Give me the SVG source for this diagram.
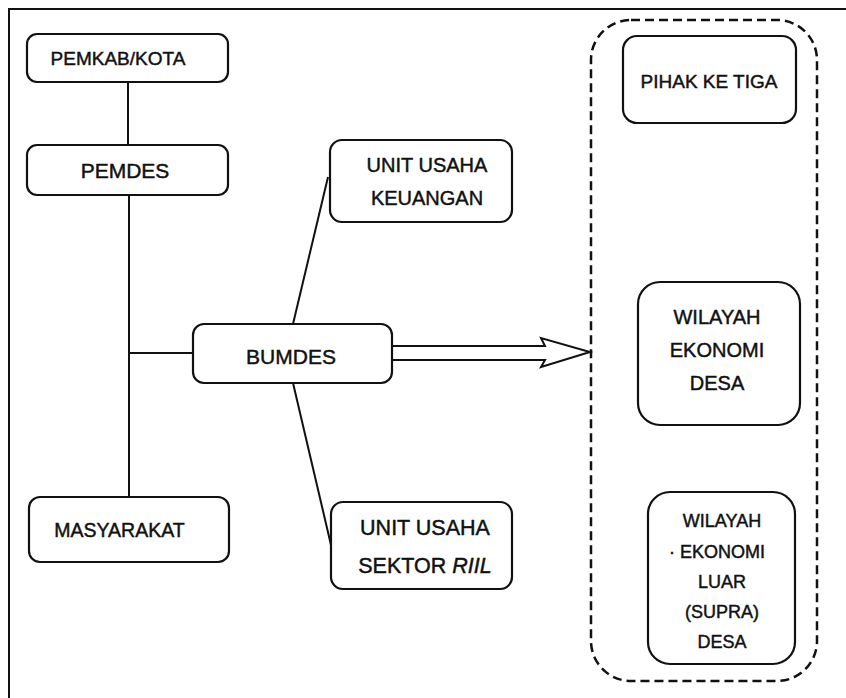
<svg xmlns="http://www.w3.org/2000/svg" width="846" height="698" viewBox="0 0 846 698">
<style>
  .box { fill: #ffffff; stroke: #111111; stroke-width: 2.2; }
  .ln { fill: none; stroke: #111111; stroke-width: 2; }
  .t { font-family: "Liberation Sans", Arial, sans-serif; fill: #111111; stroke: #111111; stroke-width: 0.45; text-anchor: middle; }
  .dash { fill: none; stroke: #111111; stroke-width: 2.5; stroke-dasharray: 9 5; }
</style>
<rect width="846" height="698" fill="#ffffff"/>
<!-- frame -->
<g id="frame">
  <path class="ln" d="M9,698 L9,9 L846,9"/>
</g>
<!-- connectors -->
<g id="connectors">
  <line class="ln" x1="128" y1="82" x2="128" y2="145"/>
  <line class="ln" x1="129" y1="195" x2="129" y2="497"/>
  <line class="ln" x1="129" y1="353" x2="193" y2="353"/>
  <line class="ln" x1="293" y1="324" x2="328" y2="177"/>
  <line class="ln" x1="293" y1="383" x2="331" y2="545"/>
  <polyline class="ln" points="392,346 545,346 541,338 590,352 541,367 545,360 392,360" fill="#ffffff"/>
</g>
<g id="container">
  <rect class="dash" x="591" y="20" width="226" height="661" rx="40" ry="40"/>
</g>
<g id="pemkab">
  <rect class="box" x="27" y="34" width="201" height="48" rx="10"/>
  <text class="t" x="118" y="65" font-size="19">PEMKAB/KOTA</text>
</g>
<g id="pemdes">
  <rect class="box" x="27" y="145" width="201" height="50" rx="10"/>
  <text class="t" x="125" y="178" font-size="21">PEMDES</text>
</g>
<g id="bumdes">
  <rect class="box" x="193" y="324" width="199" height="59" rx="11"/>
  <text class="t" x="291" y="364" font-size="21">BUMDES</text>
</g>
<g id="masyarakat">
  <rect class="box" x="29" y="497" width="200" height="65" rx="11"/>
  <text class="t" x="119.5" y="537" font-size="19.5">MASYARAKAT</text>
</g>
<g id="keuangan">
  <rect class="box" x="330" y="140" width="182" height="82" rx="12"/>
  <text class="t" x="427" y="172" font-size="20">UNIT USAHA</text>
  <text class="t" x="427" y="205" font-size="20">KEUANGAN</text>
</g>
<g id="sektor-riil">
  <rect class="box" x="331" y="502" width="181" height="87" rx="12"/>
  <text class="t" x="425" y="535" font-size="21.5">UNIT USAHA</text>
  <text class="t" x="425" y="573" font-size="21.5">SEKTOR <tspan font-style="italic">RIIL</tspan></text>
</g>
<g id="pihak-ke-tiga">
  <rect class="box" x="623" y="36" width="173" height="87" rx="14"/>
  <text class="t" x="709" y="88" font-size="19">PIHAK KE TIGA</text>
</g>
<g id="wilayah-desa">
  <rect class="box" x="638" y="282" width="162" height="143" rx="22"/>
  <text class="t" x="717" y="324" font-size="20">WILAYAH</text>
  <text class="t" x="717" y="357" font-size="20">EKONOMI</text>
  <text class="t" x="717" y="390" font-size="20">DESA</text>
</g>
<g id="wilayah-luar">
  <rect class="box" x="648" y="492" width="147" height="172" rx="22"/>
  <text class="t" x="722" y="527" font-size="18">WILAYAH</text>
  <text class="t" x="717" y="558" font-size="18">· EKONOMI</text>
  <text class="t" x="722" y="588" font-size="18">LUAR</text>
  <text class="t" x="722" y="618" font-size="18">(SUPRA)</text>
  <text class="t" x="722" y="648" font-size="18">DESA</text>
</g>
</svg>
